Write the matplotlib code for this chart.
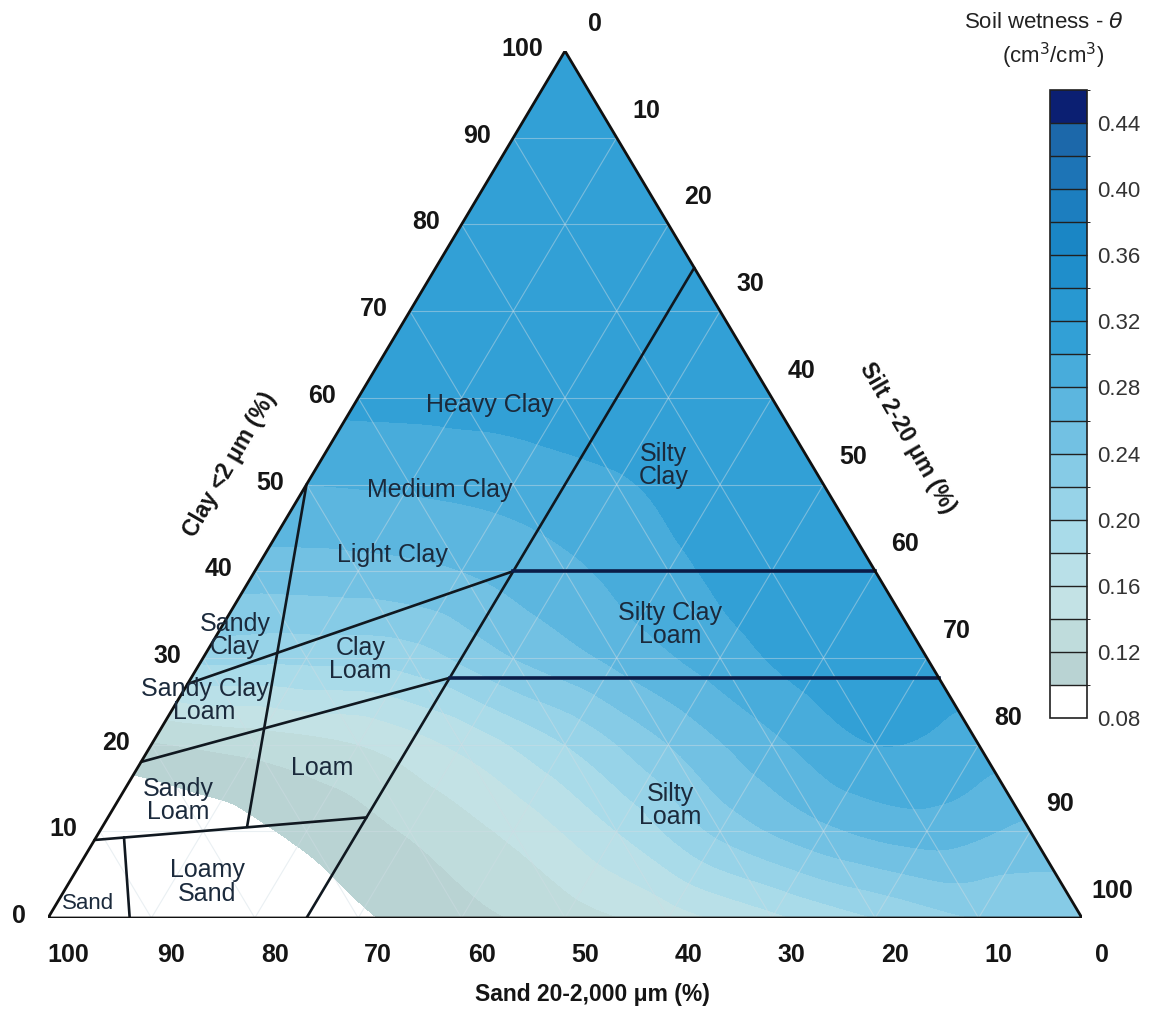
import numpy as np
import matplotlib
matplotlib.use("Agg")
import matplotlib.pyplot as plt
import matplotlib.tri as mtri
from matplotlib.colors import ListedColormap, BoundaryNorm

plt.rcParams['font.family'] = ['Liberation Sans', 'DejaVu Sans']

# ---- soil wetness (cm3/cm3) on a 10 % texture grid ----
# rows: clay = 0, 10, ..., 100 ; columns: silt = 0, 10, ..., 100 - clay
clay_levels = [0, 10, 20, 30, 40, 50, 60, 70, 80, 90, 100]
theta_rows = [
    [0.050, 0.060, 0.080, 0.097, 0.113, 0.130, 0.150, 0.175, 0.200, 0.220, 0.225],
    [0.075, 0.088, 0.105, 0.122, 0.145, 0.180, 0.225, 0.255, 0.270, 0.255],
    [0.118, 0.128, 0.140, 0.165, 0.200, 0.240, 0.275, 0.300, 0.290],
    [0.205, 0.205, 0.210, 0.240, 0.265, 0.290, 0.310, 0.310],
    [0.250, 0.252, 0.260, 0.275, 0.295, 0.310, 0.310],
    [0.280, 0.283, 0.288, 0.298, 0.308, 0.310],
    [0.305, 0.306, 0.310, 0.310, 0.310],
    [0.310, 0.310, 0.310, 0.310],
    [0.310, 0.310, 0.310],
    [0.310, 0.310],
    [0.310],
]

# colour classes of the legend
levels = [0.08, 0.10, 0.12, 0.14, 0.16, 0.18, 0.20, 0.22, 0.24, 0.26, 0.28,
          0.30, 0.32, 0.34, 0.36, 0.38, 0.40, 0.42, 0.44, 0.46]
band_colors = ['#ffffff', '#b9d3d3', '#bfdcdc', '#c3e2e5', '#b9e0e8', '#a9dbe9',
               '#97d3e8', '#86cbe6', '#72c1e3', '#5cb6df', '#48acdb', '#32a0d6',
               '#2898d1', '#1f8ecb', '#1a86c5', '#1c7ebf', '#1d74b6', '#1c68aa',
               '#0b1f72']
cbar_ticks = [0.08, 0.12, 0.16, 0.20, 0.24, 0.28, 0.32, 0.36, 0.40, 0.44]

# texture class boundaries, (clay %, silt %) end points
class_lines = [
    [(0, 25), (75, 25)],
    [(50, 0), (10.5, 14.0)],
    [(9, 0), (11.6, 25)],
    [(9.3, 2.7), (0, 7.9)],
    [(18, 0), (27.7, 25)],
    [(27, 0), (40, 25)],
]
silty_lines = [
    [(40, 25), (40, 60)],
    [(27.7, 25), (27.7, 72.3)],
]

# texture class names and their (clay %, silt %) anchors
class_names = [
    ("Heavy Clay", 59.2, 13.1), ("Medium Clay", 49.4, 13.2), ("Light Clay", 41.9, 12.4),
    ("Sandy\nClay", 32.6, 1.8), ("Clay\nLoam", 29.8, 15.3), ("Sandy Clay\nLoam", 25.1, 2.6),
    ("Loam", 17.3, 17.9), ("Sandy\nLoam", 13.6, 5.8), ("Loamy\nSand", 4.15, 13.3),
    ("Sand", 1.7, 3.0), ("Silty\nClay", 52.2, 33.4), ("Silty Clay\nLoam", 33.8, 43.3),
    ("Silty\nLoam", 13.0, 53.7),
]

tick_values = list(range(0, 101, 10))


def to_xy(clay, silt):
    clay = np.asarray(clay, dtype=float)
    silt = np.asarray(silt, dtype=float)
    return silt + clay / 2.0, clay


W, H = 1155, 1010
fig = plt.figure(figsize=(W / 100, H / 100), dpi=100)
ax = fig.add_axes([48 / W, (H - 918) / H, 1034 / W, 867 / H])
ax.set_xlim(0, 100)
ax.set_ylim(0, 100)
ax.axis('off')

# field nodes
cl, si, th = [], [], []
for c, row in zip(clay_levels, theta_rows):
    for j, v in enumerate(row):
        cl.append(c)
        si.append(10 * j)
        th.append(v)
px, py = to_xy(cl, si)
tri = mtri.Triangulation(px, py)
refiner = mtri.UniformTriRefiner(tri)
interp = mtri.CubicTriInterpolator(tri, np.array(th), kind='geom')
tri_f, th_f = refiner.refine_field(np.array(th), triinterpolator=interp, subdiv=4)

cmap = ListedColormap(band_colors)
norm = BoundaryNorm(levels, cmap.N)
cs = ax.tricontourf(tri_f, np.clip(th_f, 0.0801, 0.4599), levels=levels, cmap=cmap, norm=norm)

# faint 10 % grid
for v in range(10, 100, 10):
    for a, b in [((v, 0), (v, 100 - v)), ((0, v), (100 - v, v)), ((0, 100 - v), (100 - v, 0))]:
        x, y = to_xy([a[0], b[0]], [a[1], b[1]])
        ax.plot(x, y, color='#d0dde4', lw=0.8, alpha=0.45, zorder=3)

# class boundaries
for seg in class_lines:
    x, y = to_xy([p[0] for p in seg], [p[1] for p in seg])
    ax.plot(x, y, color='#101820', lw=1.9, zorder=5, solid_capstyle='round')
for seg in silty_lines:
    x, y = to_xy([p[0] for p in seg], [p[1] for p in seg])
    ax.plot(x, y, color='#0b1d48', lw=2.6, zorder=5)

# triangle outline
x, y = to_xy([0, 0, 100, 0], [0, 100, 0, 0])
ax.plot(x, y, color='#101010', lw=2.0, zorder=6, solid_joinstyle='miter')

for name, c, s in class_names:
    x, y = to_xy(c, s)
    ax.text(x, y, name, ha='center', va='center', fontsize=18 if name != "Sand" else 16,
            color='#1b2a3c', linespacing=0.95, zorder=7)

# axis tick labels
tk = dict(fontsize=18, fontweight='bold', color='#151515')
for v in tick_values:
    x, y = to_xy(v, 0)
    ax.annotate(str(v), (x, y), xytext=(-22, 2), textcoords='offset pixels',
                ha='right', va='center', annotation_clip=False, **tk)
    x, y = to_xy(100 - v, v)
    ax.annotate(str(v), (x, y), xytext=(30, 27), textcoords='offset pixels',
                ha='center', va='center', annotation_clip=False, **tk)
    x, y = to_xy(0, 100 - v)
    ax.annotate(str(v), (x, y), xytext=(20, -37), textcoords='offset pixels',
                ha='center', va='center', annotation_clip=False, **tk)

ax.text(230 / W, 1 - 465 / H, "Clay <2 \u03bcm (%)", transform=fig.transFigure, rotation=60,
        ha='center', va='center', fontsize=16.5, fontweight='bold', color='#151515')
ax.text(907 / W, 1 - 438 / H, "Silt 2-20 \u03bcm (%)", transform=fig.transFigure, rotation=-60,
        ha='center', va='center', fontsize=16.5, fontweight='bold', color='#151515')
ax.text(592 / W, 1 - 995 / H, "Sand 20-2,000 \u03bcm (%)", transform=fig.transFigure,
        ha='center', va='center', fontsize=16.5, fontweight='bold', color='#151515')

# colour bar
cax = fig.add_axes([1050 / W, (H - 718) / H, 37 / W, 628 / H])
cb = fig.colorbar(cs, cax=cax, ticks=cbar_ticks, drawedges=True)
cb.outline.set_edgecolor('#202020')
cb.outline.set_linewidth(1.2)
cb.dividers.set_color('#202020')
cb.dividers.set_linewidth(1.0)
cax.tick_params(length=0, labelsize=16, labelcolor='#333333', pad=7)
cax.set_yticklabels([f"{t:.2f}" for t in cbar_ticks])
fig.text(1124 / W, 1 - 22 / H, "Soil wetness - $\\theta$", ha='right', va='center',
         fontsize=16, color='#222222')
fig.text(1104 / W, 1 - 56 / H, "(cm$^3$/cm$^3$)", ha='right', va='center',
         fontsize=16, color='#222222')

fig.savefig("out.png", dpi=100)
